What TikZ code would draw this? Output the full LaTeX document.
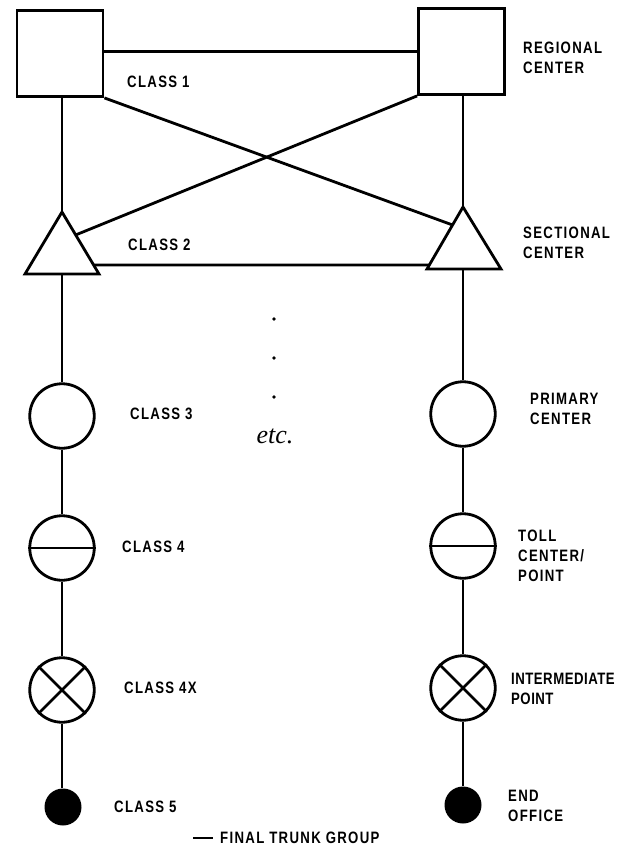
\documentclass[tikz,border=0pt]{standalone}
\usepackage{fontspec}
\newfontfamily\lblfont{Liberation Sans}[FakeStretch=0.8, LetterSpace=8]
\newfontfamily\lblfonttight{Liberation Sans}[FakeStretch=0.8, LetterSpace=3]
\newfontfamily\etcfont{Liberation Serif}
\usetikzlibrary{calc}
\begin{document}
\begin{tikzpicture}[x=1pt,y=-1pt,
  wire/.style={line width=2.8pt},
  office/.style={draw, line width=2.8pt, circle, minimum size=64.5pt, inner sep=0pt},
  centre/.style={draw, line width=2.8pt, rectangle, minimum width=86pt, minimum height=86pt, inner sep=0pt},
  endoff/.style={fill=black, circle, minimum size=37pt, inner sep=0pt},
  dotn/.style={fill=black, circle, minimum size=3.8pt, inner sep=0pt},
  lbl/.style={anchor=west, inner sep=0pt, align=left, font=\lblfont\bfseries\fontsize{16.5}{20}\selectfont},
  lbltight/.style={lbl, font=\lblfonttight\bfseries\fontsize{16.5}{20}\selectfont}]
\useasboundingbox (0,0) rectangle (621,847);

% regional centers
\node[centre] (r1) at (60,53.5) {};
\node[centre] (r2) at (461.5,51.5) {};

% sectional centers (triangles)
\coordinate (t1a) at (62,212); \coordinate (t1l) at (25,274); \coordinate (t1r) at (99,274);
\coordinate (t2a) at (463,207); \coordinate (t2l) at (427,269); \coordinate (t2r) at (501,269);
\draw[wire, line join=miter] (t1a) -- (t1l) -- (t1r) -- cycle;
\draw[wire, line join=miter] (t2a) -- (t2l) -- (t2r) -- cycle;

% trunks between top levels
\draw[wire] (r2.west -| r1.east) -- (r2.west);
\draw[wire] (r1.south east) -- ($(t2a)!0.29!(t2l)$);
\draw[wire] (r2.south west) -- ($(t1a)!0.37!(t1r)$);
\draw[wire] ($(t1a)!0.855!(t1r)$) -- ($(t2a)!0.935!(t2l)$);
\draw[wire] (r1.south -| t1a) -- (t1a);
\draw[wire] (r2.south -| t2a) -- (t2a);

% left column
\node[office] (c3) at (62,416) {};
\node[office] (c4) at (62,548) {};
\node[office] (c4x) at (62,690) {};
\node[endoff] (c5) at (63,807) {};
\draw[wire] (t1a |- t1l) -- (c3.north);
\draw[wire] (c3.south) -- (c4.north);
\draw[wire] (c4.south) -- (c4x.north);
\draw[wire] (c4x.south) -- (c5.north -| c4x.south);
\draw[wire] (c4.west) -- (c4.east);
\draw[wire] (c4x.north west) -- (c4x.south east);
\draw[wire] (c4x.north east) -- (c4x.south west);

% right column
\node[office] (pc) at (463,414) {};
\node[office] (tc) at (463,546) {};
\node[office] (ip) at (463,688) {};
\node[endoff] (eo) at (463,805) {};
\draw[wire] (t2a |- t2l) -- (pc.north);
\draw[wire] (pc.south) -- (tc.north);
\draw[wire] (tc.south) -- (ip.north);
\draw[wire] (ip.south) -- (eo.north);
\draw[wire] (tc.west) -- (tc.east);
\draw[wire] (ip.north west) -- (ip.south east);
\draw[wire] (ip.north east) -- (ip.south west);

% dots and etc.
\node[dotn] (d1) at (274,319) {};
\node[dotn] (d2) at (274,358) {};
\node[dotn] (d3) at (274,397) {};
\node[font=\etcfont\itshape\fontsize{26}{26}\selectfont, inner sep=0pt] (etc) at (275,436) {etc.};

% class labels
\node[lbl] (l1) at (127,82) {CLASS 1};
\node[lbl] (l2) at (128,245) {CLASS 2};
\node[lbl] (l3) at (130,414) {CLASS 3};
\node[lbl] (l4) at (122,547) {CLASS 4};
\node[lbl] (l4x) at (124,688) {CLASS 4X};
\node[lbl] (l5) at (114,807) {CLASS 5};

% right labels
\node[lbl] (n1) at (523,57.5) {REGIONAL\\CENTER};
\node[lbl] (n2) at (523,242.5) {SECTIONAL\\CENTER};
\node[lbl] (n3) at (530,408.5) {PRIMARY\\CENTER};
\node[lbl] (n4) at (518,556) {TOLL\\CENTER/\\POINT};
\node[lbltight] (n5) at (511,688.5) {INTERMEDIATE\\POINT};
\node[lbl] (n6) at (508,805.5) {END\\OFFICE};

% legend
\coordinate (legA) at (193,838);
\coordinate (legB) at (213,838);
\draw[line width=2pt] (legA) -- (legB);
\node[lbl] (leg) at (220,838) {FINAL TRUNK GROUP};
\end{tikzpicture}
\end{document}
